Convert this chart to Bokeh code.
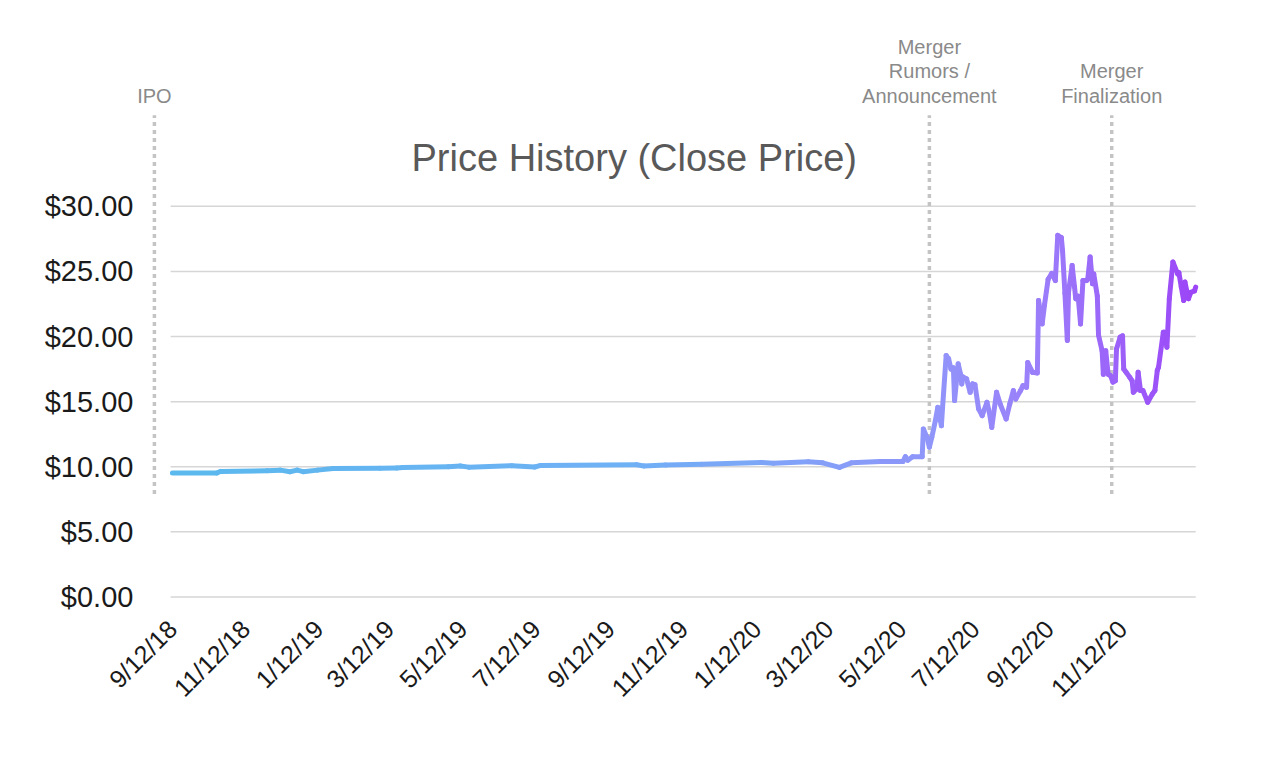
import numpy as np
import pandas as pd
from bokeh.plotting import figure
from bokeh.models import ColumnDataSource, Range1d, FixedTicker, Label
from bokeh.core.properties import value
from bokeh.embed import file_html
from bokeh.resources import INLINE

# ---------------- data ----------------
dates = [
    "2018-09-12", "2018-10-19", "2018-10-22", "2018-11-30", "2018-12-11", "2018-12-19",
    "2018-12-25", "2018-12-30", "2019-01-11", "2019-01-24", "2019-03-04", "2019-03-18",
    "2019-03-23", "2019-04-30", "2019-05-10", "2019-05-17", "2019-06-22", "2019-07-11",
    "2019-07-16", "2019-10-04", "2019-10-10", "2019-10-28", "2019-11-27", "2020-01-16",
    "2020-01-26", "2020-02-24", "2020-03-07", "2020-03-21", "2020-03-31", "2020-04-24",
    "2020-05-13", "2020-05-15", "2020-05-17", "2020-05-21", "2020-05-29", "2020-05-30",
    "2020-06-02", "2020-06-04", "2020-06-06", "2020-06-09", "2020-06-11", "2020-06-14",
    "2020-06-15", "2020-06-18", "2020-06-20", "2020-06-22", "2020-06-24", "2020-06-25",
    "2020-06-28", "2020-06-30", "2020-07-01", "2020-07-02", "2020-07-05", "2020-07-08",
    "2020-07-10", "2020-07-12", "2020-07-15", "2020-07-18", "2020-07-22", "2020-07-24",
    "2020-07-26", "2020-07-30", "2020-08-02", "2020-08-07", "2020-08-10", "2020-08-13",
    "2020-08-15", "2020-08-19", "2020-08-21", "2020-08-24", "2020-08-25", "2020-08-29",
    "2020-09-02", "2020-09-03", "2020-09-06", "2020-09-08", "2020-09-11", "2020-09-14",
    "2020-09-17", "2020-09-19", "2020-09-22", "2020-09-23", "2020-09-25", "2020-09-27",
    "2020-09-28", "2020-10-01", "2020-10-03", "2020-10-04", "2020-10-06", "2020-10-08",
    "2020-10-10", "2020-10-13", "2020-10-14", "2020-10-16", "2020-10-18", "2020-10-19",
    "2020-10-22", "2020-10-23", "2020-10-26", "2020-10-27", "2020-10-29", "2020-10-31",
    "2020-11-02", "2020-11-04", "2020-11-06", "2020-11-07", "2020-11-10", "2020-11-12",
    "2020-11-13", "2020-11-15", "2020-11-18", "2020-11-20", "2020-11-21", "2020-11-24",
    "2020-11-25", "2020-11-27", "2020-11-29", "2020-12-03", "2020-12-07", "2020-12-09",
    "2020-12-11", "2020-12-12", "2020-12-16", "2020-12-17", "2020-12-19", "2020-12-21",
    "2020-12-24", "2020-12-28", "2020-12-29", "2020-12-31", "2021-01-02", "2021-01-03",
    "2021-01-06", "2021-01-08", "2021-01-11", "2021-01-12",
]
close = [
    9.52, 9.52, 9.64, 9.69, 9.74, 9.62,
    9.74, 9.62, 9.74, 9.87, 9.88, 9.90,
    9.95, 10.00, 10.05, 9.97, 10.08, 9.98,
    10.10, 10.15, 10.06, 10.13, 10.20, 10.33,
    10.26, 10.38, 10.30, 9.95, 10.30, 10.40,
    10.41, 10.77, 10.50, 10.77, 10.77, 12.90,
    12.25, 11.50, 12.25, 13.54, 14.56, 13.15,
    14.56, 18.54, 18.30, 17.50, 17.60, 15.08,
    17.90, 17.10, 16.36, 16.90, 16.75, 15.72,
    16.36, 16.30, 14.44, 13.92, 14.95, 14.18,
    13.02, 15.72, 14.82, 13.67, 14.82, 15.85,
    15.20, 15.85, 16.23, 16.10, 18.00, 17.25,
    17.20, 22.77, 20.97, 22.45, 24.40, 24.85,
    24.30, 27.77, 27.60, 26.60, 23.30, 19.70,
    23.40, 25.46, 23.80, 22.90, 23.10, 20.97,
    24.30, 24.30, 24.40, 26.10, 24.05, 24.80,
    23.10, 20.10, 18.90, 17.10, 18.90, 17.10,
    17.00, 16.50, 16.60, 19.05, 19.95, 20.05,
    17.50, 17.25, 16.87, 16.60, 15.72, 15.97,
    17.25, 15.85, 15.85, 14.95, 15.60, 15.85,
    17.40, 17.64, 20.33, 20.33, 19.18, 22.90,
    25.72, 24.80, 24.90, 23.80, 22.77, 24.18,
    22.90, 23.40, 23.50, 23.80,
]
tick_labels = ["9/12/18", "11/12/18", "1/12/19", "3/12/19", "5/12/19", "7/12/19",
               "9/12/19", "11/12/19", "1/12/20", "3/12/20", "5/12/20", "7/12/20",
               "9/12/20", "11/12/20"]
y_ticks = [0, 5, 10, 15, 20, 25, 30]
event_names = ["IPO", "Merger\nRumors /\nAnnouncement", "Merger\nFinalization"]
event_dates = ["2018-08-28", "2020-06-04", "2020-11-03"]
title_text = "Price History (Close Price)"
title_date = "2019-10-02"

# ---------------- helpers ----------------
DAY = 86400000.0
FONT = "Liberation Sans"


def to_ms(vals, fmt=None):
    d = pd.to_datetime(vals, format=fmt)
    return (d.values.astype("datetime64[ms]").astype(np.int64)).astype(float)


t = to_ms(dates)
v = np.array(close, dtype=float)
tick_ms = to_ms(tick_labels, "%m/%d/%y")
ev_ms = to_ms(event_dates)
title_ms = to_ms([title_date])

# gradient colour per segment (blue -> purple, left to right)
mid = (t[:-1] + t[1:]) / 2.0
frac = (mid - t[0]) / (t[-1] - t[0])
stops = [0.0, 0.45, 0.75, 0.85, 1.0]
rs = [90, 112, 145, 155, 156]
gs = [185, 176, 148, 125, 70]
bs = [238, 245, 250, 250, 247]
cols = []
for f in frac:
    r = int(round(np.interp(f, stops, rs)))
    g = int(round(np.interp(f, stops, gs)))
    b = int(round(np.interp(f, stops, bs)))
    cols.append("#%02x%02x%02x" % (r, g, b))

seg = ColumnDataSource(dict(x0=t[:-1], x1=t[1:], y0=v[:-1], y1=v[1:], color=cols))

# ---------------- figure ----------------
# frame spans the whole width (and a bit below zero) so that annotations and
# value labels are not clipped; value labels are drawn as text left of the data.
p = figure(width=1258, height=743, x_axis_type="datetime",
           x_range=Range1d(t[0] - 143.3 * DAY, t[-1] + 4 * DAY),
           y_range=Range1d(-1.5, 43.5),
           output_backend="svg", toolbar_location=None, title_location=None,
           min_border_left=0, min_border_right=58, min_border_top=30,
           min_border_bottom=127)
p.outline_line_color = None
p.xgrid.visible = False
p.ygrid.visible = False
p.yaxis.visible = False
p.background_fill_color = "white"
p.border_fill_color = "white"

# horizontal gridlines spanning the data range
p.segment(x0=[t[0] - 1.5 * DAY] * len(y_ticks), y0=y_ticks,
          x1=[t[-1]] * len(y_ticks), y1=y_ticks,
          line_color="#d6d6d6", line_width=1.5)

# value labels
p.text(x=[t[0] - 32.5 * DAY] * len(y_ticks), y=y_ticks,
       text=["${:.2f}".format(yv) for yv in y_ticks],
       text_align="right", text_baseline="middle", text_font=value(FONT),
       text_font_size="29px", text_color="#1a1a1a")

# event markers
p.segment(x0=ev_ms, y0=[7.9] * len(ev_ms), x1=ev_ms, y1=[37.0] * len(ev_ms),
          line_color="#c4c4c4", line_width=3.5, line_dash="4 4")
for name, xm in zip(event_names, ev_ms):
    p.add_layout(Label(x=float(xm), y=37.6, text=name, text_align="center",
                       text_baseline="bottom", text_font=FONT,
                       text_font_size="20px", text_color="#8a8a8a",
                       text_line_height=1.13))

# title
p.text(x=title_ms, y=[33.7], text=[title_text], text_align="center",
       text_baseline="middle", text_font=value(FONT), text_font_size="38px",
       text_color="#595959")

# price line with gradient
p.segment(x0="x0", y0="y0", x1="x1", y1="y1", source=seg, line_color="color",
          line_width=5, line_cap="round", line_join="round")

# x axis
p.xaxis.ticker = FixedTicker(ticks=list(tick_ms))
p.xaxis.major_label_overrides = {float(k): lbl for k, lbl in zip(tick_ms, tick_labels)}
p.xaxis.major_label_orientation = np.pi / 4
p.xaxis.axis_line_color = None
p.xaxis.major_tick_line_color = None
p.xaxis.minor_tick_line_color = None
p.xaxis.major_label_text_font = FONT
p.xaxis.major_label_text_font_size = "25px"
p.xaxis.major_label_text_color = "#1a1a1a"
p.xaxis.major_label_standoff = 2

open("out.html", "w").write(file_html(p, INLINE))
